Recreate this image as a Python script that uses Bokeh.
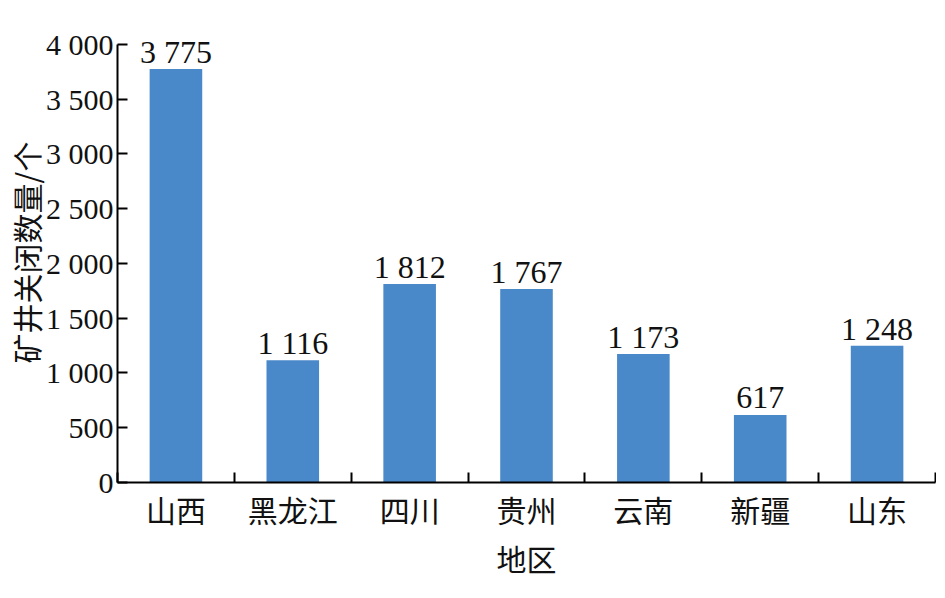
from bokeh.plotting import figure
from bokeh.models import ColumnDataSource, Range1d, FixedTicker
from bokeh.core.properties import value
from bokeh.embed import file_html
from bokeh.resources import INLINE

regions = ["山西", "黑龙江", "四川", "贵州", "云南", "新疆", "山东"]
counts = [3775, 1116, 1812, 1767, 1173, 617, 1248]
y_ticks = [0, 500, 1000, 1500, 2000, 2500, 3000, 3500, 4000]
y_title = "矿井关闭数量/个"
x_title = "地区"

def fmt(v):
    return f"{v:,}".replace(",", " ")

xs = list(range(len(regions)))
src = ColumnDataSource(dict(x=xs, count=counts, label=[fmt(v) for v in counts]))

SERIF = "Liberation Serif"
CJK = "Noto Sans CJK SC"
BAR = "#4A89C9"

p = figure(frame_width=818, frame_height=460, x_range=Range1d(-0.5, len(regions) - 0.5),
           y_range=Range1d(0, 4200), output_backend="svg", toolbar_location=None,
           min_border_left=110, min_border_right=1, min_border_top=22,
           min_border_bottom=100)
p.outline_line_color = None
p.xgrid.visible = False
p.ygrid.visible = False

p.vbar(x="x", top="count", width=0.45, source=src, fill_color=BAR, line_color=None)
p.text(x="x", y="count", text="label", source=src, text_align="center",
       text_baseline="alphabetic", y_offset=-17, text_font=value(SERIF),
       text_font_size="32px", text_color="#111111")

# x axis
xa = p.xaxis[0]
xa.ticker = FixedTicker(ticks=xs, minor_ticks=[i - 0.5 for i in range(len(regions) + 1)])
xa.major_label_overrides = {i: r for i, r in enumerate(regions)}
xa.major_tick_in = 0
xa.major_tick_out = 0
xa.minor_tick_in = 10
xa.minor_tick_out = 0
xa.minor_tick_line_color = "black"
xa.minor_tick_line_width = 2
xa.axis_line_width = 2
xa.axis_line_color = "black"
xa.major_label_text_font = CJK
xa.major_label_text_font_size = "30px"
xa.major_label_text_color = "#111111"
xa.major_label_standoff = 4
xa.axis_label = x_title
xa.axis_label_text_font = CJK
xa.axis_label_text_font_size = "30px"
xa.axis_label_text_font_style = "normal"
xa.axis_label_text_color = "#111111"
xa.axis_label_standoff = 2

# y axis
ya = p.yaxis[0]
ya.ticker = FixedTicker(ticks=y_ticks)
ya.bounds = (y_ticks[0], y_ticks[-1])
ya.major_label_overrides = {t: fmt(t) for t in y_ticks}
ya.major_tick_in = 10
ya.major_tick_out = 0
ya.major_tick_line_width = 2
ya.minor_tick_in = 0
ya.minor_tick_out = 0
ya.axis_line_width = 2
ya.axis_line_color = "black"
ya.major_label_text_font = SERIF
ya.major_label_text_font_size = "30px"
ya.major_label_text_color = "#111111"
ya.major_label_standoff = 4
ya.axis_label = y_title
ya.axis_label_text_font = CJK
ya.axis_label_text_font_size = "30px"
ya.axis_label_text_font_style = "normal"
ya.axis_label_text_color = "#111111"
ya.axis_label_standoff = -5

open("out.html", "w").write(file_html(p, INLINE))
